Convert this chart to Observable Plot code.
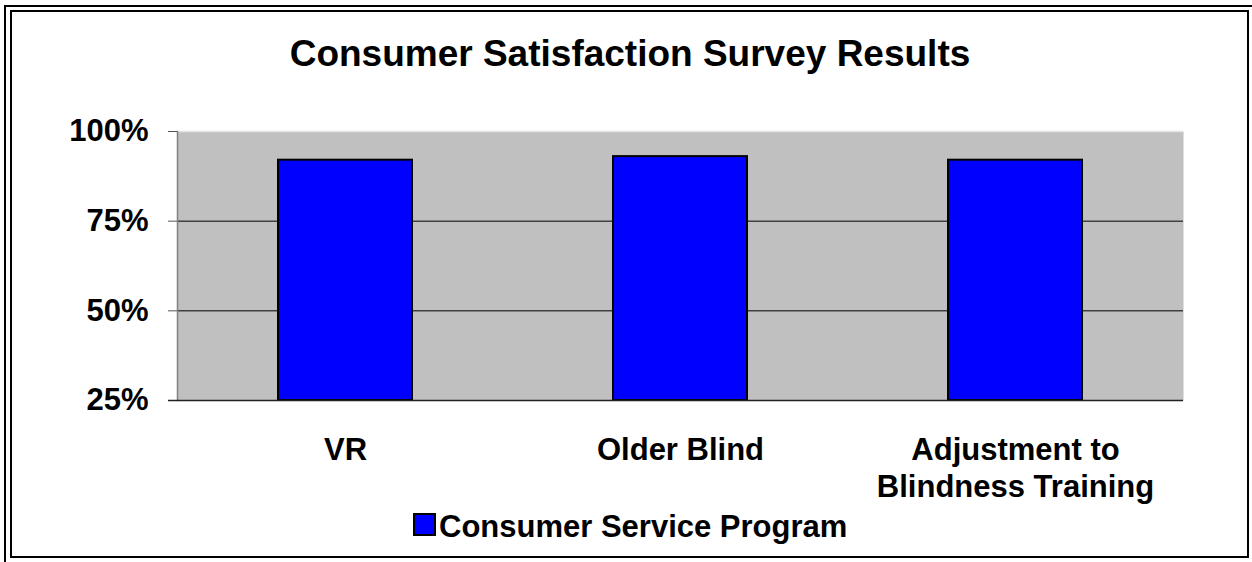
<!DOCTYPE html>
<html>
<head>
<meta charset="utf-8">
<script src="https://cdn.jsdelivr.net/npm/d3@7"></script>
<script src="https://cdn.jsdelivr.net/npm/@observablehq/plot@0.6"></script>
<style>
  html, body { margin: 0; padding: 0; background: #fff; }
  #wrap { position: relative; width: 1252px; height: 562px; overflow: hidden; }
  #wrap > svg { position: absolute; left: 0; top: 0; }
</style>
</head>
<body>
<div id="wrap"></div>
<script>
// ---- data ----
const chartTitle = "Consumer Satisfaction Survey Results";
const categories = ["VR", "Older Blind", "Adjustment to\nBlindness Training"];
const values = [92, 93, 92];
const seriesName = "Consumer Service Program";
const yTicks = [25, 50, 75, 100];
const gridValues = [50, 75];

const barColor = "#0000ff";
const FONT = "'Liberation Sans', Arial, Helvetica, sans-serif";

const data = categories.map((c, i) => ({category: c, value: values[i]}));

const W = 1252, H = 562;

const chart = Plot.plot({
  width: W,
  height: H,
  marginTop: 131,
  marginBottom: 162,
  marginLeft: 177,
  marginRight: 69,
  style: {fontFamily: FONT, fontWeight: "bold", background: "transparent", color: "#000"},
  x: {domain: categories, paddingInner: 0.6, paddingOuter: 0.3, axis: null, label: null},
  y: {domain: [25, 100], clamp: true, axis: null, label: null},
  marks: [
    Plot.frame({fill: "#c0c0c0", stroke: null}),
    Plot.ruleY([100], {stroke: "#e2e2e2", strokeWidth: 1.5}),
    Plot.ruleY(gridValues, {stroke: "#000", strokeWidth: 1}),
    Plot.frame({anchor: "left", stroke: "#808080", strokeWidth: 1.5}),
    Plot.axisY(yTicks, {
      anchor: "left",
      label: null,
      tickSize: 9,
      tickPadding: 20,
      stroke: "#555",
      fill: "#000",
      fontSize: 31,
      fontWeight: "bold",
      tickFormat: d => d + "%"
    }),
    Plot.barY(data, {x: "category", y: "value", fill: barColor, stroke: "#000", strokeWidth: 2}),
    Plot.ruleY([25], {stroke: "#222", strokeWidth: 1.5, insetLeft: -9}),
    Plot.text(data, {
      x: "category",
      text: "category",
      frameAnchor: "bottom",
      lineAnchor: "top",
      dy: 33,
      lineHeight: 1.2,
      fontSize: 31,
      fontWeight: "bold",
      fill: "#000"
    })
  ]
});
document.getElementById("wrap").appendChild(chart);

// ---- decorations: border, title, legend (overlay SVG) ----
const ov = d3.select("#wrap").append("svg")
  .attr("width", W).attr("height", H)
  .style("pointer-events", "none")
  .style("font-family", FONT);

// outer frame (double line)
ov.append("path").attr("d", `M5,${H + 5} V6 H${W + 5}`).attr("fill", "none").attr("stroke", "#000").attr("stroke-width", 2);
ov.append("rect").attr("x", 11).attr("y", 11).attr("width", 1237).attr("height", 546)
  .attr("fill", "none").attr("stroke", "#000").attr("stroke-width", 2);

ov.append("text")
  .attr("x", 630).attr("y", 66)
  .attr("text-anchor", "middle")
  .attr("font-size", 37).attr("font-weight", "bold")
  .text(chartTitle);

const lg = ov.append("g");
lg.append("rect").attr("x", 414).attr("y", 514).attr("width", 21).attr("height", 21)
  .attr("fill", barColor).attr("stroke", "#000").attr("stroke-width", 2);
lg.append("text").attr("x", 439).attr("y", 537)
  .attr("font-size", 31).attr("font-weight", "bold")
  .text(seriesName);
</script>
</body>
</html>
